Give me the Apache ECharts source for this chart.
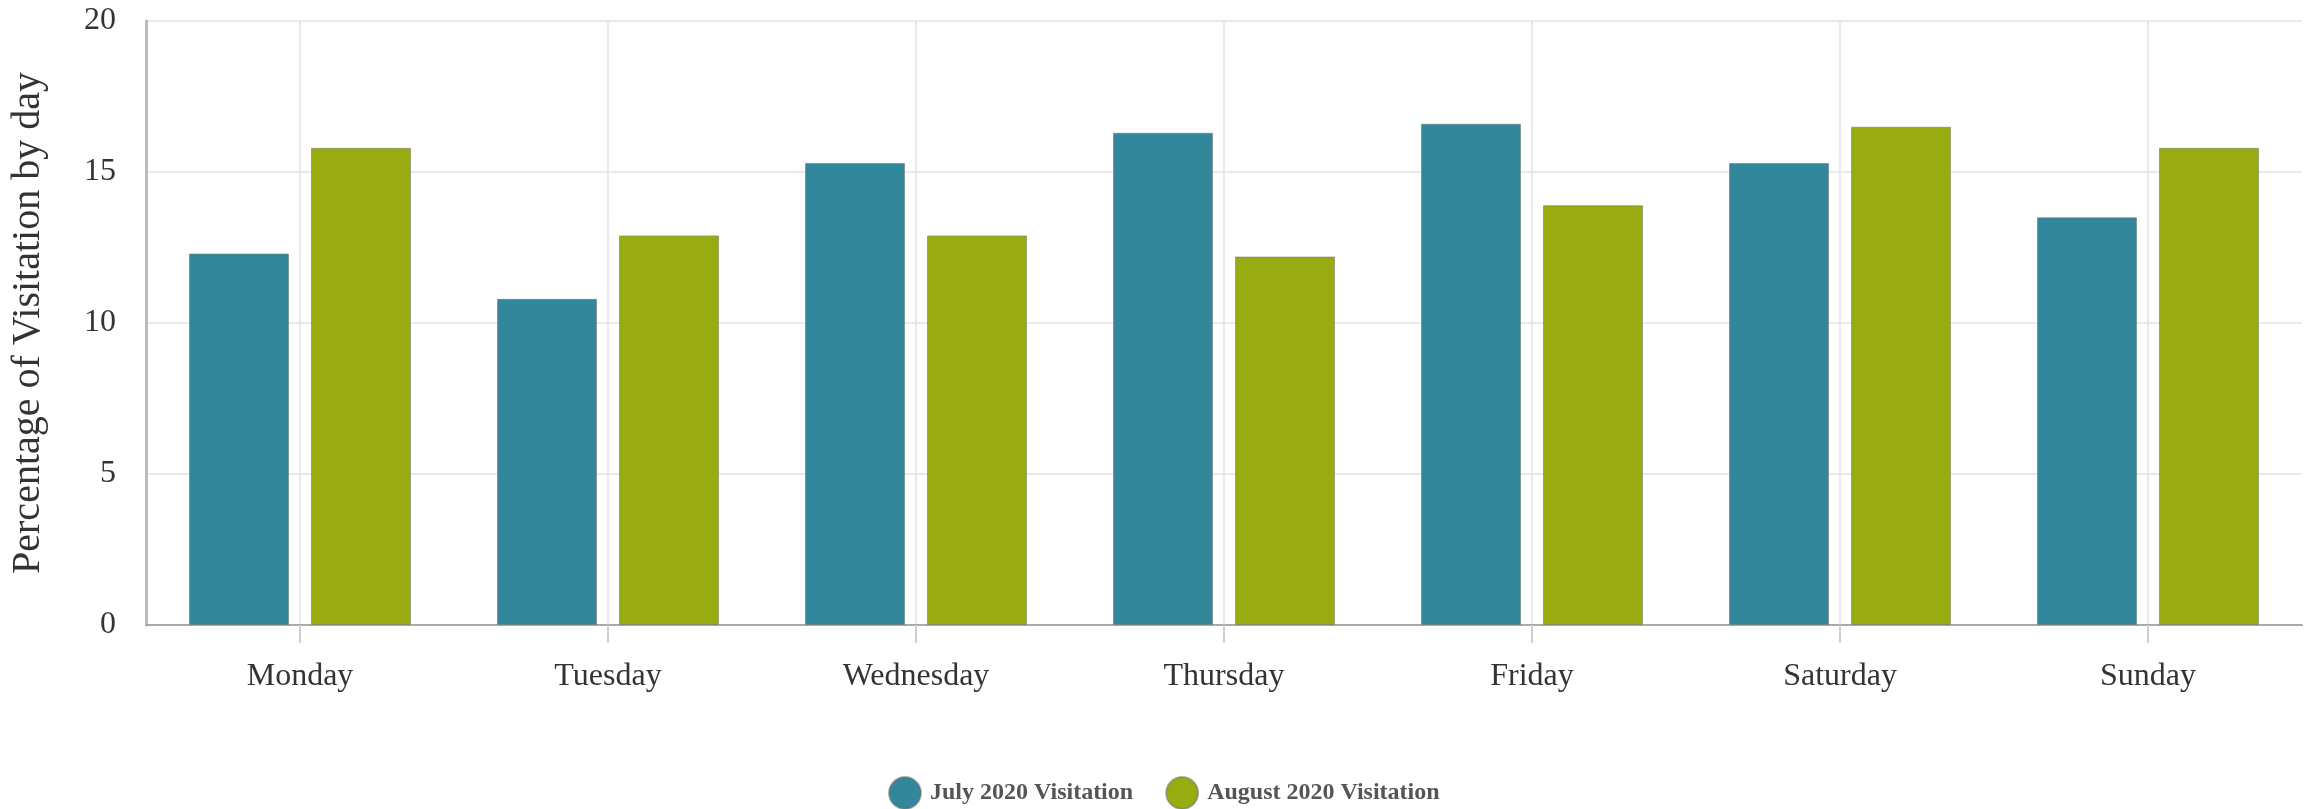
<!DOCTYPE html>
<html>
<head>
<meta charset="utf-8">
<script src="https://cdn.jsdelivr.net/npm/echarts@6/dist/echarts.min.js"></script>
<style>
  html, body { margin: 0; padding: 0; background: #fff; }
  #visitChart { width: 2307px; height: 809px; }
</style>
</head>
<body>
<div id="visitChart"></div>
<script>
// 每日访问占比
var days = ["Monday", "Tuesday", "Wednesday", "Thursday", "Friday", "Saturday", "Sunday"];
var julyVals = [12.3, 10.8, 15.3, 16.3, 16.6, 15.3, 13.5];
var augVals = [15.8, 12.9, 12.9, 12.2, 13.9, 16.5, 15.8];
var yTicks = [0, 5, 10, 15, 20];

var fontSerif = "'Liberation Serif', 'DejaVu Serif', serif";
var myChart = echarts.init(document.getElementById('visitChart'));

var option = {
  animation: false,
  grid: {
    left: 140,
    right: 5,
    top: 21,
    bottom: 184
  },
  legend: {
    left: 883,
    top: 771,
    icon: 'circle',
    itemWidth: 32,
    itemHeight: 32,
    itemGap: 32,
    textStyle: {
      fontFamily: fontSerif,
      fontWeight: 'bold',
      fontSize: 24,
      color: '#555',
      padding: [0, 0, 0, 4]
    },
    data: ['July 2020 Visitation', 'August 2020 Visitation']
  },
  xAxis: {
    type: 'category',
    data: days,
    axisLine: {
      lineStyle: { color: '#aaa', width: 2 }
    },
    axisTick: {
      show: true,
      alignWithLabel: true,
      length: 18,
      lineStyle: { color: '#d0d0d0', width: 2 }
    },
    splitLine: {
      show: true,
      alignWithLabel: true,
      lineStyle: { color: '#e2e2e2', width: 1.5 }
    },
    axisLabel: {
      margin: 36,
      fontFamily: fontSerif,
      fontSize: 32,
      color: '#333'
    }
  },
  yAxis: {
    type: 'value',
    min: yTicks[0],
    max: yTicks[yTicks.length - 1],
    interval: 5,
    name: 'Percentage of Visitation by day',
    nameLocation: 'middle',
    nameGap: 98,
    nameTextStyle: {
      fontFamily: fontSerif,
      fontSize: 40,
      color: '#333'
    },
    axisLine: {
      show: true,
      lineStyle: { color: '#bbb', width: 3 }
    },
    axisTick: { show: false },
    splitLine: {
      lineStyle: { color: '#e2e2e2', width: 1.5 }
    },
    axisLabel: {
      margin: 30,
      fontFamily: fontSerif,
      fontSize: 32,
      color: '#333'
    }
  },
  series: [
    {
      name: 'July 2020 Visitation',
      type: 'bar',
      barWidth: 100,
      barGap: '22%',
      itemStyle: {
        color: '#32889a',
        borderColor: 'rgba(110,110,110,0.5)',
        borderWidth: 1
      },
      data: julyVals
    },
    {
      name: 'August 2020 Visitation',
      type: 'bar',
      barWidth: 100,
      barGap: '22%',
      itemStyle: {
        color: '#98ac12',
        borderColor: 'rgba(110,110,110,0.5)',
        borderWidth: 1
      },
      data: augVals
    }
  ]
};
myChart.setOption(option);
</script>
</body>
</html>
